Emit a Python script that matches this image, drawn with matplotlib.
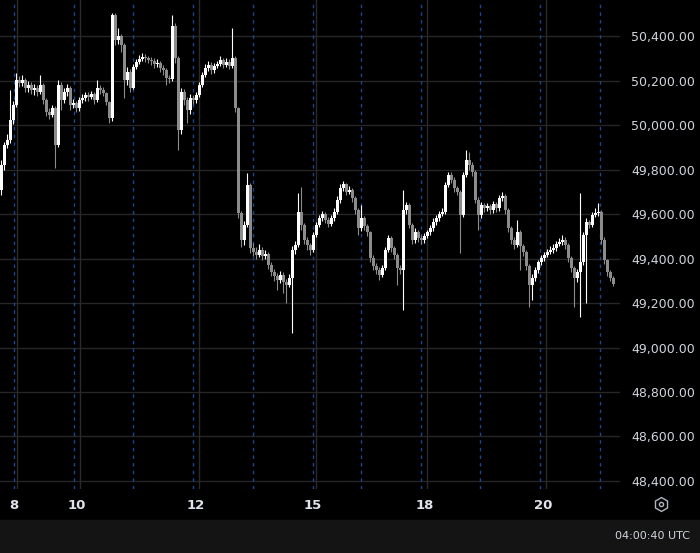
import matplotlib.pyplot as plt
import numpy as np
from matplotlib.patches import Rectangle

# hourly candles, open of each = previous close
first_open = 49708
closes = [
    49820, 49910, 49933, 50022, 50090, 50202, 50189, 50202, 50166, 50180,
    50157, 50166, 50148, 50180, 50112, 50058, 50045, 50076, 49910, 50180,
    50112, 50148, 50166, 50090, 50099, 50076, 50112, 50121, 50135, 50126,
    50139, 50112, 50166, 50157, 50144, 50103, 50031, 50494, 50382, 50400,
    50360, 50202, 50238, 50166, 50261, 50283, 50297, 50306, 50301, 50292,
    50288, 50274, 50279, 50256, 50247, 50211, 50207, 50445, 50301, 49978,
    50148, 50112, 50067, 50121, 50112, 50135, 50180, 50225, 50256, 50270,
    50247, 50265, 50274, 50292, 50270, 50283, 50265, 50301, 50076, 49604,
    49483, 49551, 49730, 49447, 49429, 49416, 49438, 49411, 49420, 49371,
    49339, 49321, 49303, 49326, 49294, 49281, 49312, 49438, 49461, 49609,
    49551, 49483, 49461, 49438, 49506, 49551, 49582, 49600, 49573, 49555,
    49582, 49609, 49663, 49717, 49735, 49699, 49708, 49672, 49618, 49537,
    49582, 49546, 49519, 49402, 49366, 49348, 49326, 49357, 49438, 49492,
    49447, 49416, 49357, 49348, 49618, 49640, 49551, 49483, 49519, 49492,
    49483, 49501, 49519, 49537, 49564, 49582, 49600, 49609, 49730, 49775,
    49753, 49717, 49699, 49596, 49775, 49843, 49820, 49789, 49663, 49596,
    49640, 49627, 49636, 49618, 49645, 49627, 49672, 49681, 49618, 49537,
    49483, 49461, 49519, 49456, 49429, 49366, 49281, 49312, 49348, 49384,
    49402, 49416, 49429, 49438, 49447, 49465, 49474, 49483, 49461, 49402,
    49357, 49312, 49339, 49384, 49506, 49564, 49551, 49596, 49605, 49609,
    49483, 49393, 49339, 49312, 49285,
]
highs = [
    49843, 49925, 49960, 50157, 50110, 50235, 50220, 50225, 50212, 50200,
    50195, 50185, 50180, 50225, 50190, 50120, 50075, 50090, 50085, 50202,
    50195, 50165, 50185, 50175, 50115, 50110, 50125, 50140, 50150, 50148,
    50155, 50150, 50202, 50180, 50170, 50150, 50110, 50503, 50503, 50436,
    50410, 50370, 50260, 50250, 50275, 50295, 50315, 50323, 50320, 50312,
    50305, 50300, 50295, 50290, 50270, 50255, 50225, 50494, 50460, 50310,
    50165, 50160, 50125, 50140, 50135, 50150, 50195, 50240, 50275, 50290,
    50285, 50280, 50290, 50310, 50300, 50300, 50295, 50436, 50310, 50080,
    49615, 49570, 49784, 49740, 49470, 49450, 49465, 49450, 49440, 49430,
    49385, 49355, 49335, 49345, 49340, 49310, 49330, 49455, 49480, 49694,
    49721, 49560, 49495, 49470, 49520, 49565, 49595, 49615, 49610, 49585,
    49595, 49625, 49680, 49735, 49748, 49740, 49725, 49715, 49680, 49625,
    49640, 49590, 49555, 49525, 49415, 49380, 49360, 49370, 49450, 49505,
    49500, 49455, 49425, 49370, 49708, 49655, 49650, 49560, 49535, 49530,
    49505, 49515, 49530, 49550, 49580, 49595, 49615, 49625, 49745, 49790,
    49790, 49765, 49725, 49710, 49790, 49888, 49880, 49835, 49800, 49675,
    49655, 49650, 49650, 49645, 49660, 49655, 49685, 49700, 49690, 49625,
    49545, 49495, 49573, 49530, 49465, 49440, 49375, 49330, 49360, 49395,
    49415, 49430, 49445, 49455, 49465, 49480, 49490, 49506, 49495, 49470,
    49410, 49365, 49355, 49694, 49520, 49580, 49575, 49610, 49625, 49649,
    49620, 49495, 49400, 49350, 49320,
]
lows = [
    49685, 49800, 49895, 49920, 50005, 50080, 50170, 50175, 50150, 50150,
    50140, 50135, 50130, 50140, 50095, 50040, 50025, 50035, 49807, 49900,
    50067, 50100, 50130, 50067, 50075, 50060, 50065, 50100, 50110, 50110,
    50115, 50095, 50105, 50140, 50130, 50090, 50009, 50020, 50360, 50365,
    50330, 50121, 50180, 50148, 50160, 50250, 50275, 50290, 50285, 50278,
    50270, 50255, 50260, 50240, 50225, 50180, 50190, 50200, 50280, 49888,
    49960, 50090, 50009, 50050, 50095, 50100, 50125, 50170, 50215, 50245,
    50230, 50235, 50255, 50265, 50255, 50260, 50250, 50255, 50060, 49580,
    49453, 49461, 49540, 49425, 49410, 49400, 49405, 49395, 49400, 49355,
    49320, 49300, 49259, 49290, 49245, 49200, 49270, 49065, 49420, 49450,
    49530, 49465, 49440, 49416, 49430, 49495, 49540, 49570, 49560, 49540,
    49545, 49570, 49600, 49650, 49705, 49685, 49690, 49655, 49600, 49506,
    49525, 49530, 49500, 49385, 49350, 49330, 49303, 49315, 49350, 49430,
    49430, 49400, 49281, 49330, 49169, 49600, 49535, 49465, 49470, 49475,
    49465, 49470, 49490, 49505, 49525, 49550, 49570, 49590, 49600, 49720,
    49740, 49700, 49685, 49425, 49585, 49765, 49800, 49770, 49650, 49528,
    49580, 49610, 49615, 49600, 49605, 49610, 49615, 49660, 49600, 49520,
    49465, 49445, 49450, 49348, 49410, 49350, 49182, 49214, 49300, 49335,
    49370, 49390, 49405, 49420, 49425, 49435, 49455, 49460, 49445, 49385,
    49340, 49182, 49295, 49137, 49370, 49200, 49535, 49540, 49585, 49590,
    49465, 49375, 49320, 49300, 49275,
]

# session breaks (blue dashed) and day labels, in candle positions
session_breaks = [4.2, 24.2, 43.8, 63.8, 83.8, 103.8, 119.8, 139.8, 159.5, 179.5, 199.5]
day_pos = [4.2, 25.2, 64.8, 103.8, 141.0, 180.7]
day_labels = ["8", "10", "12", "15", "18", "20"]
price_ticks = np.arange(48400, 50401, 200)

closes = np.array(closes, dtype=float)
opens = np.concatenate([[first_open], closes[:-1]])
highs = np.maximum(np.array(highs, dtype=float), np.maximum(opens, closes))
lows = np.minimum(np.array(lows, dtype=float), np.minimum(opens, closes))
idx = np.arange(len(closes))
up = closes >= opens

W, H = 700, 553
fig = plt.figure(figsize=(W / 100, H / 100), dpi=100, facecolor="black")

# full-figure overlay in pixel coords for the status bar and icon
bg = fig.add_axes([0, 0, 1, 1])
bg.set_xlim(0, W)
bg.set_ylim(H, 0)
bg.axis("off")
bg.add_patch(Rectangle((0, 520), W, 33, color="#141414"))
bg.text(690, 536, "04:00:40 UTC", color="#d1d4dc", fontsize=8, ha="right", va="center")
bg.plot([661], [504], marker="h", ms=10, mfc="none", mec="#b2b5be", mew=1)
bg.plot([661], [504], marker="o", ms=3, mfc="none", mec="#b2b5be", mew=1)

ax = fig.add_axes([0, 64 / H, 620 / W, 489 / H])
ax.set_facecolor("black")
ax.set_xlim(-0.5, 206.2)
ax.set_ylim(48364, 50562)

for p in price_ticks:
    ax.axhline(p, color="#262626", lw=1, zorder=0)
for d in day_pos:
    ax.axvline(d + 0.9, color="#2a2a2a", lw=1, zorder=0)
for s in session_breaks:
    ax.axvline(s, color="#1d4591", lw=1, ls=(0, (2.5, 3)), zorder=1)

col = np.where(up, "#ffffff", "#8c8c8c")
ax.vlines(idx, lows, highs, colors=col, lw=0.8, zorder=2)
body_lo = np.minimum(opens, closes)
body_h = np.maximum(np.abs(closes - opens), 4)
ax.bar(idx, body_h, bottom=body_lo, width=0.75, color=col, lw=0, zorder=3)

for s in ax.spines.values():
    s.set_visible(False)
ax.yaxis.tick_right()
ax.set_yticks(price_ticks)
ax.set_yticklabels([f"{p:,.2f}" for p in price_ticks])
ax.tick_params(axis="y", length=0, pad=8, labelsize=9, labelcolor="#d1d4dc")
ax.set_xticks(day_pos)
ax.set_xticklabels(day_labels, fontweight="bold")
ax.tick_params(axis="x", length=0, pad=7, labelsize=9.5, labelcolor="#e0e3eb")

fig.savefig("out.png", dpi=100, facecolor="black")
